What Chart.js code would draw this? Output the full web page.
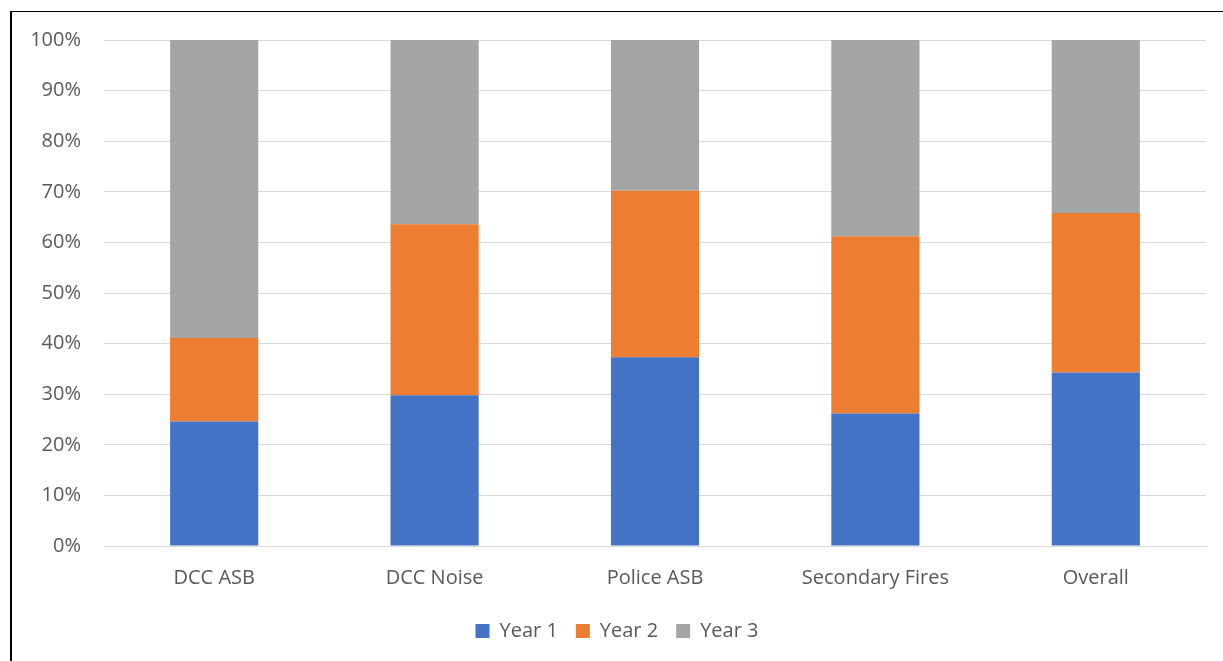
<!DOCTYPE html>
<html lang="en">

<head>
    <meta charset="UTF-8">
    <title>Year split</title>
    <script src="https://cdn.jsdelivr.net/npm/chart.js"></script>
    <style>
        body { margin: 0; background: #fff; }
        #moldura {
            position: absolute; left: 10px; top: 11px; width: 1240px; height: 680px;
            border-top: 1px solid #000; border-left: 2px solid #000;
        }
        #caixa { position: absolute; left: 0; top: 0; width: 1223px; height: 661px; }
    </style>
</head>

<body>
    <div id="moldura"></div>
    <div id="caixa"><canvas id="grafico"></canvas></div>
</body>

</html>

<script>
    var categorias = ['DCC ASB', 'DCC Noise', 'Police ASB', 'Secondary Fires', 'Overall']
    var ano1 = [24.6, 29.8, 37.3, 26.2, 34.3]
    var ano2 = [16.5, 33.8, 32.9, 35.0, 31.5]
    var ano3 = [58.9, 36.4, 29.8, 38.8, 34.2]
    var nomes = ['Year 1', 'Year 2', 'Year 3']
    var cores = ['#4472C4', '#ED7D31', '#A5A5A5']

    Chart.defaults.font.family = "'Open Sans', sans-serif"
    Chart.defaults.font.size = 20
    Chart.defaults.color = '#595959'

    var series = [ano1, ano2, ano3]
    var datasets = []
    for (var i = 0; i < series.length; i++) {
        datasets.push({
            label: nomes[i],
            data: series[i],
            backgroundColor: cores[i],
            barPercentage: 0.4,
            categoryPercentage: 1
        })
    }

    var ctx = document.getElementById('grafico')
    var grafico = new Chart(ctx, {
        type: 'bar',
        data: { labels: categorias, datasets: datasets },
        options: {
            responsive: true,
            maintainAspectRatio: false,
            animation: false,
            layout: { padding: { left: 28, right: 17, top: 40, bottom: 10 } },
            plugins: {
                tooltip: { enabled: false },
                legend: {
                    position: 'bottom',
                    labels: { boxWidth: 14, boxHeight: 14, padding: 18 }
                }
            },
            scales: {
                x: {
                    stacked: true,
                    grid: { display: false },
                    border: { color: '#d9d9d9', width: 1 },
                    ticks: { padding: 12 },
                    afterFit: function (s) { s.height = 57 }
                },
                y: {
                    stacked: true,
                    min: 0,
                    max: 100,
                    grid: { color: '#d9d9d9', drawTicks: false },
                    border: { display: false },
                    ticks: {
                        stepSize: 10,
                        padding: 23,
                        callback: function (v) { return v + '%' }
                    },
                    afterFit: function (s) { s.width = 76 }
                }
            }
        }
    })
</script>
